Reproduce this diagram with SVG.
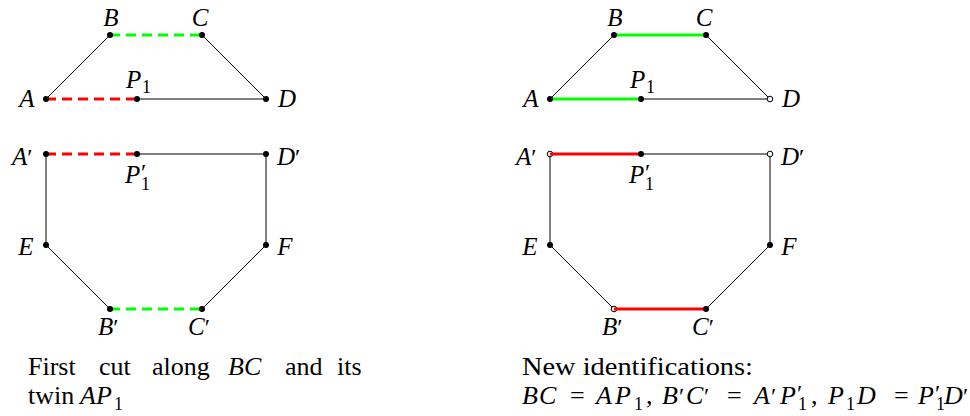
<svg xmlns="http://www.w3.org/2000/svg" width="970" height="416" viewBox="0 0 970 416">
<style>
.ln{stroke:#000;stroke-width:1;fill:none}
.gd{stroke:#00ff00;stroke-width:3;stroke-dasharray:10 6;fill:none}
.rd{stroke:#ff0000;stroke-width:3;stroke-dasharray:10 6;fill:none}
.gs{stroke:#00ff00;stroke-width:3;fill:none}
.rs{stroke:#ff0000;stroke-width:3;fill:none}
.dot{fill:#000}
.open{fill:#fff;stroke:#000;stroke-width:1}
.lbl{font-family:"Liberation Serif","DejaVu Serif","Times New Roman",serif;font-style:italic;font-size:25px;fill:#000}
.cap{font-family:"Liberation Serif","DejaVu Serif","Times New Roman",serif;font-size:26px;fill:#000}
.sub{font-style:normal;font-size:18px}
.pr{font-style:normal;font-size:24px}
.mi{font-style:italic}
</style>
<g id="connectors">
  <line class="ln" x1="46" y1="99" x2="110" y2="35"/>
  <line class="ln" x1="202" y1="35" x2="266" y2="99"/>
  <line class="ln" x1="137" y1="99" x2="266" y2="99"/>
  <line class="ln" x1="137" y1="154" x2="266" y2="154"/>
  <line class="ln" x1="46" y1="154" x2="46" y2="245"/>
  <line class="ln" x1="266" y1="154" x2="266" y2="245"/>
  <line class="ln" x1="46" y1="245" x2="110" y2="309"/>
  <line class="ln" x1="266" y1="245" x2="202" y2="309"/>
  <line class="gd" x1="110" y1="35" x2="202" y2="35"/>
  <line class="rd" x1="46" y1="99" x2="137" y2="99"/>
  <line class="rd" x1="46" y1="154" x2="137" y2="154"/>
  <line class="gd" x1="110" y1="309" x2="202" y2="309"/>
  <line class="ln" x1="550" y1="99" x2="614" y2="35"/>
  <line class="ln" x1="706" y1="35" x2="770" y2="99"/>
  <line class="ln" x1="641" y1="99" x2="770" y2="99"/>
  <line class="ln" x1="641" y1="154" x2="770" y2="154"/>
  <line class="ln" x1="550" y1="154" x2="550" y2="245"/>
  <line class="ln" x1="770" y1="154" x2="770" y2="245"/>
  <line class="ln" x1="550" y1="245" x2="614" y2="309"/>
  <line class="ln" x1="770" y1="245" x2="706" y2="309"/>
</g>
<g id="open-nodes">
  <g id="rD"><circle class="open" cx="770" cy="99" r="2.8"/><text class="lbl" x="791" y="107" text-anchor="middle">D</text></g>
  <g id="rA2"><circle class="open" cx="550" cy="154" r="2.8"/><text class="lbl" x="516" y="165">A<tspan class="pr">′</tspan></text></g>
  <g id="rD2"><circle class="open" cx="770" cy="154" r="2.8"/><text class="lbl" x="781" y="165">D<tspan class="pr">′</tspan></text></g>
  <g id="rB2"><circle class="open" cx="614" cy="309" r="2.8"/><text class="lbl" x="602" y="335">B<tspan class="pr">′</tspan></text></g>
</g>
<g id="connectors-coloured">
  <line class="gs" x1="614" y1="35" x2="706" y2="35"/>
  <line class="gs" x1="550" y1="99" x2="641" y2="99"/>
  <line class="rs" x1="550" y1="154" x2="641" y2="154"/>
  <line class="rs" x1="614" y1="309" x2="706" y2="309"/>
</g>
<g id="nodes">
  <g id="A"><circle class="dot" cx="46" cy="99" r="3"/><text class="lbl" x="27" y="107" text-anchor="middle">A</text></g>
  <g id="B"><circle class="dot" cx="110" cy="35" r="3"/><text class="lbl" x="111" y="26" text-anchor="middle">B</text></g>
  <g id="C"><circle class="dot" cx="202" cy="35" r="3"/><text class="lbl" x="200" y="26" text-anchor="middle">C</text></g>
  <g id="D"><circle class="dot" cx="266" cy="99" r="3"/><text class="lbl" x="287" y="107" text-anchor="middle">D</text></g>
  <g id="P1"><circle class="dot" cx="137" cy="99" r="3"/><text class="lbl" x="126" y="88">P<tspan class="sub" x="142" dy="5">1</tspan></text></g>
  <g id="A2"><circle class="dot" cx="46" cy="154" r="3"/><text class="lbl" x="12" y="165">A<tspan class="pr">′</tspan></text></g>
  <g id="P1p"><circle class="dot" cx="137" cy="154" r="3"/><text class="lbl" x="125" y="183">P<tspan class="pr" x="141" dy="-3">′</tspan><tspan class="sub" x="141" dy="10">1</tspan></text></g>
  <g id="D2"><circle class="dot" cx="266" cy="154" r="3"/><text class="lbl" x="277" y="165">D<tspan class="pr">′</tspan></text></g>
  <g id="E"><circle class="dot" cx="46" cy="245" r="3"/><text class="lbl" x="26" y="255" text-anchor="middle">E</text></g>
  <g id="F"><circle class="dot" cx="266" cy="245" r="3"/><text class="lbl" x="285" y="255" text-anchor="middle">F</text></g>
  <g id="B2"><circle class="dot" cx="110" cy="309" r="3"/><text class="lbl" x="98" y="335">B<tspan class="pr">′</tspan></text></g>
  <g id="C2"><circle class="dot" cx="202" cy="309" r="3"/><text class="lbl" x="188" y="335">C<tspan class="pr">′</tspan></text></g>
  <g id="rA"><circle class="dot" cx="550" cy="99" r="3"/><text class="lbl" x="531" y="107" text-anchor="middle">A</text></g>
  <g id="rB"><circle class="dot" cx="614" cy="35" r="3"/><text class="lbl" x="615" y="26" text-anchor="middle">B</text></g>
  <g id="rC"><circle class="dot" cx="706" cy="35" r="3"/><text class="lbl" x="704" y="26" text-anchor="middle">C</text></g>
  <g id="rP1"><circle class="dot" cx="641" cy="99" r="3"/><text class="lbl" x="630" y="88">P<tspan class="sub" x="646" dy="5">1</tspan></text></g>
  <g id="rP1p"><circle class="dot" cx="641" cy="154" r="3"/><text class="lbl" x="629" y="183">P<tspan class="pr" x="645" dy="-3">′</tspan><tspan class="sub" x="645" dy="10">1</tspan></text></g>
  <g id="rE"><circle class="dot" cx="550" cy="245" r="3"/><text class="lbl" x="530" y="255" text-anchor="middle">E</text></g>
  <g id="rF"><circle class="dot" cx="770" cy="245" r="3"/><text class="lbl" x="789" y="255" text-anchor="middle">F</text></g>
  <g id="rC2"><circle class="dot" cx="706" cy="309" r="3"/><text class="lbl" x="692" y="335">C<tspan class="pr">′</tspan></text></g>
</g>
<g id="caption-left">
  <text class="cap" y="375"><tspan x="28">First</tspan><tspan x="99">cut</tspan><tspan x="152">along</tspan><tspan x="228" class="mi">BC</tspan><tspan x="285">and</tspan><tspan x="337">its</tspan></text>
  <text class="cap" y="404"><tspan x="28">twin</tspan><tspan x="80" class="mi">AP</tspan><tspan class="sub" x="114" dy="6">1</tspan></text>
</g>
<g id="caption-right">
  <text class="cap" x="522" y="375" textLength="231" lengthAdjust="spacingAndGlyphs">New identifications:</text>
  <text class="cap" y="404"><tspan class="mi" x="522">B</tspan><tspan class="mi" x="539">C</tspan><tspan x="570">=</tspan><tspan class="mi" x="596">A</tspan><tspan class="mi" x="615">P</tspan><tspan class="sub" x="634" dy="6">1</tspan><tspan dy="-6" x="646">,</tspan><tspan class="mi" x="662">B</tspan><tspan class="pr" x="679">′</tspan><tspan class="mi" x="686">C</tspan><tspan class="pr" x="704">′</tspan><tspan x="727">=</tspan><tspan class="mi" x="754">A</tspan><tspan class="pr" x="771">′</tspan><tspan class="mi" x="780">P</tspan><tspan class="pr" x="797" dy="-3">′</tspan><tspan class="sub" x="798" dy="9">1</tspan><tspan x="811" dy="-6">,</tspan><tspan class="mi" x="828">P</tspan><tspan class="sub" x="846" dy="6">1</tspan><tspan class="mi" x="857" dy="-6">D</tspan><tspan x="894">=</tspan><tspan class="mi" x="918">P</tspan><tspan class="pr" x="935" dy="-3">′</tspan><tspan class="sub" x="936" dy="9">1</tspan><tspan class="mi" x="944" dy="-6">D</tspan><tspan class="pr" x="963">′</tspan></text>
</g>
</svg>
